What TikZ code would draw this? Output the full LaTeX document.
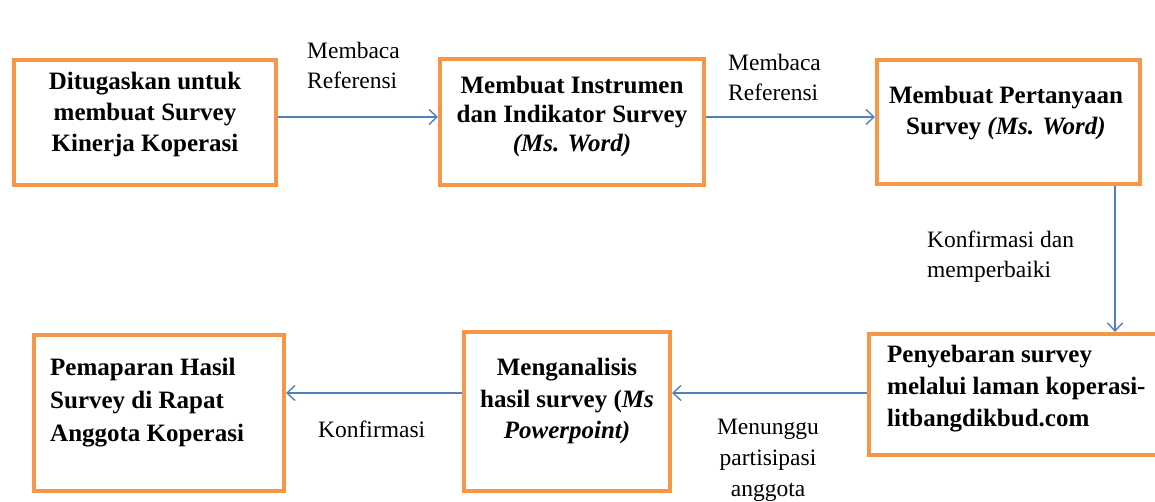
\documentclass[tikz,border=0pt]{standalone}
\usepackage{fontspec}
\setmainfont{Liberation Serif}
\usetikzlibrary{arrows.meta}
\definecolor{boxorange}{HTML}{F79646}
\definecolor{arrowblue}{HTML}{4F81BD}
\tikzset{
  flowbox/.style={draw=boxorange, line width=4pt, fill=white, inner sep=0pt, rectangle},
  boxtext/.style={inner sep=0pt, anchor=north, font=\fontsize{25}{31}\selectfont\bfseries},
  lefttext/.style={boxtext, anchor=north west, align=left},
  midtext/.style={boxtext, align=center},
  lbl/.style={inner sep=0pt, anchor=north west, align=left, font=\fontsize{23.5}{30}\selectfont},
  arr/.style={draw=arrowblue, line width=1.6pt, -{Straight Barb[length=8pt,width=15pt,line width=1.4pt]}}
}
\begin{document}
\begin{tikzpicture}[x=1pt, y=-1pt]
\useasboundingbox (0,0) rectangle (1155,502);
\clip (0,0) rectangle (1155,502);
% boxes
\node[flowbox, minimum width=262pt, minimum height=125pt] (b1) at (145,122.5) {};
\node[flowbox, minimum width=264pt, minimum height=126pt] (b2) at (572,122.5) {};
\node[flowbox, minimum width=263pt, minimum height=124pt] (b3) at (1008.5,122) {};
\node[flowbox, minimum width=296pt, minimum height=121pt] (b4) at (1017,394.5) {};
\node[flowbox, minimum width=250pt, minimum height=156pt] (b5) at (159,413) {};
\node[flowbox, minimum width=206pt, minimum height=159pt] (b6) at (567,411.5) {};
% box texts
\node[midtext] (t1) at (145,72) {Ditugaskan untuk\\membuat Survey\\Kinerja Koperasi};
\node[midtext, font=\fontsize{25}{29}\selectfont\bfseries] (t2) at (572,76) {Membuat Instrumen\\dan Indikator Survey\\\textit{(Ms. Word)}};
\node[midtext] (t3) at (1006,86) {Membuat Pertanyaan\\Survey \textit{(Ms. Word)}};
\node[lefttext, font=\fontsize{25}{32}\selectfont\bfseries] (t4) at (887,345) {Penyebaran survey\\melalui laman koperasi-\\litbangdikbud.com};
\node[lefttext, font=\fontsize{25}{33}\selectfont\bfseries] (t5) at (50,358) {Pemaparan Hasil\\Survey di Rapat\\Anggota Koperasi};
\node[midtext, font=\fontsize{25}{31.5}\selectfont\bfseries] (t6) at (567,358) {Menganalisis\\hasil survey (\textit{Ms}\\\textit{Powerpoint)}};
% connectors
\draw[arr] ([yshift=5.5pt]b1.east) -- ([yshift=5.5pt]b2.west);
\draw[arr] ([yshift=5.5pt]b2.east) -- ([yshift=5pt]b3.west);
\draw[arr] ([xshift=106.5pt]b3.south) -- ([xshift=98pt]b4.north);
\draw[arr] ([yshift=1.5pt]b4.west) -- ([yshift=18.5pt]b6.east);
\draw[arr] ([yshift=18.5pt]b6.west) -- ([yshift=20pt]b5.east);
% labels
\node[lbl] (l1) at (307,42) {Membaca\\Referensi};
\node[lbl] (l2) at (728,54) {Membaca\\Referensi};
\node[lbl] (l3) at (927,231) {Konfirmasi dan\\memperbaiki};
\node[lbl] (l4) at (318,421) {Konfirmasi};
\node[lbl, anchor=north, align=center, font=\fontsize{23.5}{31}\selectfont] (l5) at (768,419) {Menunggu\\partisipasi\\anggota};
\end{tikzpicture}
\end{document}
